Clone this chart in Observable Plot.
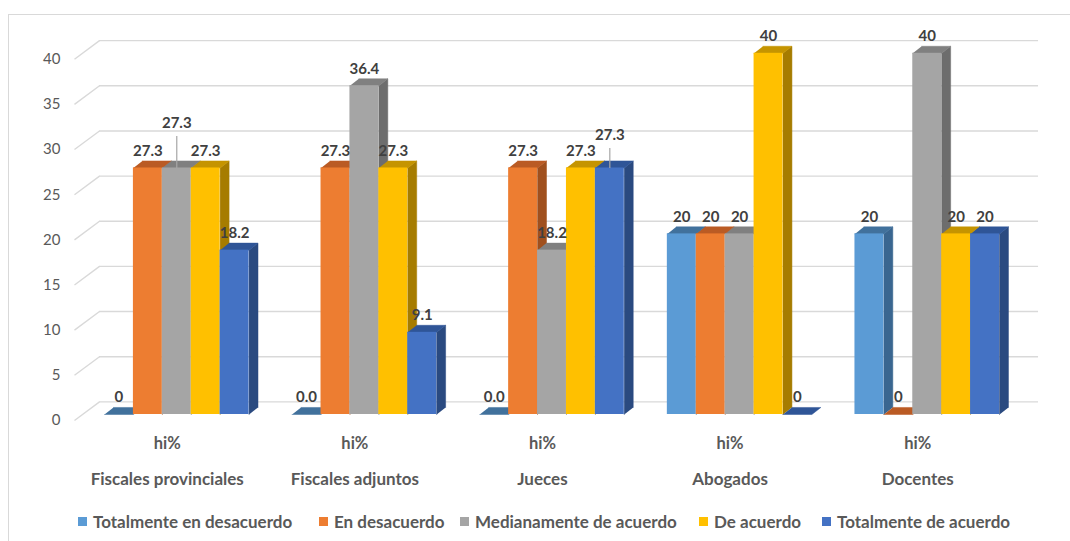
<!DOCTYPE html>
<html><head><meta charset="utf-8">
<script src="https://cdn.jsdelivr.net/npm/d3@7"></script>
<script src="https://cdn.jsdelivr.net/npm/@observablehq/plot@0.6"></script>
<style>
body{margin:0;background:#fff;width:1070px;height:541px;overflow:hidden;position:relative;font-family:Lato,"Open Sans",sans-serif;}
#frame{position:absolute;left:8px;top:14px;width:1200px;height:600px;border-left:1px solid #d9d9d9;border-top:1px solid #d9d9d9;}
#chart{position:absolute;left:0;top:0;}
#legend{position:absolute;left:0;top:505px;width:1070px;height:32px;font-weight:bold;font-size:17px;color:#595959;}
.item{position:absolute;top:0;height:32px;display:flex;align-items:center;gap:6px;white-space:nowrap}
.sw{width:9px;height:9px;display:inline-block}
</style></head><body>
<div id="frame"></div><div id="chart"></div><div id="legend"></div>
<script>
// ---- data ----
const categories = ["Fiscales provinciales", "Fiscales adjuntos", "Jueces", "Abogados", "Docentes"];
const subLabel = "hi%";
const series = ["Totalmente en desacuerdo", "En desacuerdo", "Medianamente de acuerdo", "De acuerdo", "Totalmente de acuerdo"];
const totalmenteDesacuerdo = [0, 0, 0, 20, 20];
const enDesacuerdo = [27.3, 27.3, 27.3, 20, 0];
const medianamente = [27.3, 36.4, 18.2, 20, 40];
const deAcuerdo = [27.3, 27.3, 27.3, 40, 20];
const totalmenteAcuerdo = [18.2, 9.1, 27.3, 0, 20];
const labelsTD = ["0", "0.0", "0.0", "20", "20"];
const labelsED = ["27.3", "27.3", "27.3", "20", "0"];
const labelsMA = ["27.3", "36.4", "18.2", "20", "40"];
const labelsDA = ["27.3", "27.3", "27.3", "40", "20"];
const labelsTA = ["18.2", "9.1", "27.3", "0", "20"];
const yTicks = [0, 5, 10, 15, 20, 25, 30, 35, 40];

const values = [totalmenteDesacuerdo, enDesacuerdo, medianamente, deAcuerdo, totalmenteAcuerdo];
const labels = [labelsTD, labelsED, labelsMA, labelsDA, labelsTA];

// ---- styles ----
const frontColors = ["#5B9BD5", "#ED7D31", "#A5A5A5", "#FFC000", "#4472C4"];
const topColors   = ["#41719C", "#BA5B24", "#808080", "#C59400", "#2F5597"];
const sideColors  = ["#3A6690", "#A0501E", "#6D6D6D", "#A67C00", "#2A4A80"];
const legendLeft  = [78, 319, 460, 699, 822];
const G = 6.49;      // group pitch (bar units)
const DX = 0.31;     // depth, x (bar units)
const DY = 0.78;     // depth, y (value units)
const K = 9.03;      // px per value unit
const BACK = 1.4;    // back wall offset (value units)
const SIDE_X = -1.038, BACK_X0 = -0.173, BACK_X1 = 32.31, SIDE_Y = -0.66;
// labels that Excel moved up with a leader line: [group-series]: lift px
const moved = {"0-2": 28, "2-4": 16};

const bars = [];
categories.forEach((c, g) => series.forEach((s, j) => {
  bars.push({g, j, cat: c, ser: s, v: values[j][g], label: labels[j][g], x1: g * G + j, x2: g * G + j + 1});
}));

const polys = [];
bars.forEach(b => {
  const id = `${b.g}-${b.j}`;
  if (b.v > 0) {
    [[b.x2, 0], [b.x2, b.v], [b.x2 + DX, b.v + DY], [b.x2 + DX, DY]].forEach(([x, y]) => polys.push({id: id + "s", x, y, c: sideColors[b.j]}));
  }
  [[b.x1, b.v], [b.x2, b.v], [b.x2 + DX, b.v + DY], [b.x1 + DX, b.v + DY]].forEach(([x, y]) => polys.push({id: id + "t", x, y, c: topColors[b.j]}));
});

const leaders = bars.filter(b => moved[`${b.g}-${b.j}`]);

const plot = Plot.plot({
  width: 1070, height: 500, margin: 0,
  style: {fontFamily: "Lato, 'Open Sans', sans-serif", background: "transparent", overflow: "visible"},
  x: {domain: [0, 4 * G + 5], range: [104, 999], axis: null},
  y: {domain: [0, 40], range: [414, 414 - 40 * K], axis: null},
  color: {type: "identity"},
  marks: [
    Plot.ruleY(yTicks, {y: d => d + BACK, x1: () => BACK_X0, x2: () => BACK_X1, stroke: "#d9d9d9", strokeWidth: 1.4}),
    Plot.link(yTicks, {x1: () => SIDE_X, y1: d => d + SIDE_Y, x2: () => BACK_X0, y2: d => d + BACK, stroke: "#d9d9d9", strokeWidth: 1.4}),
    Plot.text(yTicks, {x: () => SIDE_X, y: d => d + SIDE_Y, text: d => String(d), dx: -14, textAnchor: "end", fill: "#595959", fontSize: 15}),
    Plot.line(polys, {x: "x", y: "y", z: "id", fill: "c", stroke: "c", strokeWidth: 0.5}),
    Plot.rect(bars.filter(b => b.v > 0), {x1: "x1", x2: "x2", y1: () => 0, y2: "v", fill: b => frontColors[b.j]}),
    Plot.link(leaders, {x1: b => b.x1 + 0.5, x2: b => b.x1 + 0.5, y1: b => b.v, y2: b => b.v + (moved[`${b.g}-${b.j}`] + 4) / K, stroke: "#a6a6a6", strokeWidth: 1.2}),
    Plot.text(bars, {x: b => b.x1 + 0.5, y: b => b.v + (moved[`${b.g}-${b.j}`] || 0) / K, text: "label", dy: -17, fill: "#404040", fontWeight: "bold", fontSize: 15}),
    Plot.text(categories, {x: (d, i) => i * G + 2.5 - 0.33, y: () => 0, text: () => subLabel, dy: 29, fill: "#595959", fontWeight: "bold", fontSize: 16.5}),
    Plot.text(categories, {x: (d, i) => i * G + 2.5 - 0.33, y: () => 0, text: d => d, dy: 65, fill: "#595959", fontWeight: "bold", fontSize: 17})
  ]
});
document.getElementById("chart").appendChild(plot);

const legend = document.getElementById("legend");
series.forEach((s, j) => {
  const it = document.createElement("div");
  it.className = "item";
  it.style.left = legendLeft[j] + "px";
  it.innerHTML = `<span class="sw" style="background:${frontColors[j]}"></span><span>${s}</span>`;
  legend.appendChild(it);
});
</script>
</body></html>
